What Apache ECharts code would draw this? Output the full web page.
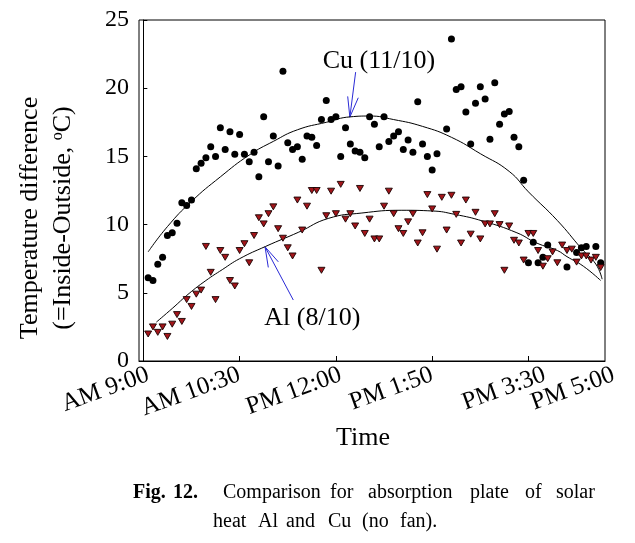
<!DOCTYPE html>
<html><head><meta charset="utf-8">
<script src="https://cdn.jsdelivr.net/npm/echarts@6/dist/echarts.min.js"></script>
<style>html,body{margin:0;padding:0;background:#fff}#c{width:635px;height:543px}</style>
</head><body><div id="c"></div>
<script>
// sample index 1..95 (x axis), temperature difference (°C)
const cuValues = [6.1,5.9,7.1,7.6,9.2,9.4,10.1,11.6,11.4,11.8,
  14.1,14.5,14.9,15.7,15.0,17.1,15.5,16.8,15.15,16.6,
  15.15,14.6,15.3,13.5,17.9,14.6,16.5,14.3,21.25,16.0,
  15.5,15.7,14.8,16.5,16.4,15.8,17.7,19.1,17.7,17.9,
  15.0,17.1,15.9,15.4,15.3,14.9,17.9,17.35,15.7,17.9,
  16.1,16.5,16.8,15.5,16.2,15.3,19.0,15.9,15.0,14.0,
  15.2,null,17.0,23.6,19.9,20.1,18.25,15.9,18.9,20.1,
  19.2,16.25,20.4,17.35,18.1,18.3,16.4,15.7,13.25,7.2,
  8.7,7.2,7.6,8.5,null,null,null,6.9,null,7.95,
  8.3,8.4,null,8.4,7.2];
const alValues = [1.98,2.5,2.1,2.5,1.8,2.7,3.4,2.9,4.5,4.0,
  4.9,5.2,8.4,6.5,4.5,8.1,7.6,5.9,5.5,8.1,
  8.6,7.2,9.2,10.5,10.05,10.8,11.3,9.7,9.0,8.3,
  7.7,11.8,9.6,11.35,12.5,12.5,6.65,10.65,12.45,10.8,
  12.95,10.4,10.8,9.9,12.65,9.35,10.4,8.95,8.95,11.35,
  12.45,10.8,9.7,9.35,10.2,10.8,8.65,9.4,12.2,11.15,
  8.2,12.0,9.6,12.15,10.75,8.65,11.8,9.3,10.9,8.95,
  10.05,10.05,10.8,10.0,6.65,9.9,8.85,8.65,7.4,9.35,
  9.35,8.1,6.95,7.5,8.0,7.2,8.5,8.1,8.2,7.25,
  7.7,7.7,7.4,7.6,6.85];
// fitted trend curves
const cuFitX = [1,5,10,16,22,27,32,38,43,47,52,58,64,70,76,80,86,91,94,95.3];
const cuFitY = [8.0,9.85,11.7,13.5,15.1,16.1,16.95,17.5,17.9,17.96,17.7,17.2,16.4,15.2,13.9,12.4,10.3,8.25,7.1,6.0];
const alFitX = [2.7,6,9.5,13,16.4,20,25.4,32.3,38.4,45.4,53.7,60,64.7,70.6,77.6,81.7,86,88,91.4,95];
const alFitY = [2.85,3.85,4.95,5.9,6.7,7.5,8.4,9.45,10.45,10.85,11.05,11.0,10.75,10.25,9.4,8.65,8.1,7.65,6.95,5.9];
const xTickAt = [0,20,40,60,80];
const xLabelAt = [1,20,41,60,83.4,97.7];
const xLabels = ['AM 9:00','AM 10:30','PM 12:00','PM 1:50','PM 3:30','PM 5:00'];

const F = 'Liberation Serif, Times New Roman, serif';
const chart = echarts.init(document.getElementById('c'), null, {renderer:'canvas'});
const cuData = cuValues.map((v,i)=>[i+1,v]).filter(d=>d[1]!==null);
const alData = alValues.map((v,i)=>[i+1,v]).filter(d=>d[1]!==null);
const option = {
  animation:false,
  backgroundColor:'#fff',
  grid:{left:139, top:20, width:466, height:341, show:true, borderColor:'#000', borderWidth:1},
  xAxis:{type:'value', min:-0.9, max:95.9,
    axisLine:{show:true, onZero:false, lineStyle:{color:'#000', width:1}},
    axisTick:{show:true, inside:true, length:5, customValues:xTickAt, lineStyle:{color:'#000'}},
    axisLabel:{show:false},
    splitLine:{show:false}},
  yAxis:{type:'value', min:0, max:25, interval:5,
    axisLine:{show:true, lineStyle:{color:'#000', width:1}},
    axisTick:{show:true, inside:true, length:4, lineStyle:{color:'#000'}},
    axisLabel:{fontSize:24, fontFamily:F, color:'#000', margin:10},
    splitLine:{show:false}},
  series:[
    {type:'line', data:cuFitX.map((x,i)=>[x,cuFitY[i]]), smooth:true, showSymbol:false, symbol:'none',
      lineStyle:{color:'#000', width:1}, z:1},
    {type:'line', data:alFitX.map((x,i)=>[x,alFitY[i]]), smooth:true, showSymbol:false, symbol:'none',
      lineStyle:{color:'#000', width:1}, z:1},
    {type:'scatter', name:'Cu', data:cuData, symbol:'circle', symbolSize:7,
      itemStyle:{color:'#000', opacity:1}, z:2},
    {type:'scatter', name:'Al', data:alData, symbol:'triangle', symbolRotate:180, symbolSize:[7,6],
      itemStyle:{color:'#a3151a', borderColor:'#1a0303', borderWidth:0.9, opacity:1}, z:3}
  ]
};
chart.setOption(option);

const P = (x,y)=>chart.convertToPixel({gridIndex:0},[x,y]);
const blue = '#2a2ad6';
const cuTxt = P(48.95,21.96), cuA0 = P(44.1,21.18), cuTip = P(42.9,17.88), cuW1 = P(42.45,19.4), cuW2 = P(44.65,19.3);
const alTxt = P(35.1,3.15), alA0 = P(31.15,4.47), alTip = P(25.28,8.37), alW1 = P(25.96,6.86), alW2 = P(28.04,7.27);
const T = (x,y,text,size,extra)=>({type:'text', x:x, y:y, style:Object.assign({text:text, fontSize:size, fontFamily:F, fill:'#000', textAlign:'left', textVerticalAlign:'middle'}, extra||{})});
const g = [
  T(cuTxt[0],cuTxt[1],'Cu (11/10)',26,{textAlign:'center'}),
  {type:'polyline', shape:{points:[cuA0,cuTip]}, style:{stroke:blue, lineWidth:1, fill:null}},
  {type:'polyline', shape:{points:[cuW1,cuTip,cuW2]}, style:{stroke:blue, lineWidth:1, fill:null}},
  T(alTxt[0],alTxt[1],'Al (8/10)',26,{textAlign:'center'}),
  {type:'polyline', shape:{points:[alA0,alTip]}, style:{stroke:blue, lineWidth:1, fill:null}},
  {type:'polyline', shape:{points:[alW1,alTip,alW2]}, style:{stroke:blue, lineWidth:1, fill:null}},
  // axis titles
  T(363,438,'Time',26,{textAlign:'center'}),
  {type:'text', x:30, y:218, rotation:Math.PI/2, style:{text:'Temperature difference', fontSize:26, fontFamily:F, fill:'#000', textAlign:'center', textVerticalAlign:'middle'}},
  {type:'text', x:63, y:218, rotation:Math.PI/2, style:{text:'{n|(=Inside-Outside, }{s|o}{n|C)}', fontSize:26, fontFamily:F, fill:'#000', textAlign:'center', textVerticalAlign:'middle',
     rich:{n:{fontSize:26, fontFamily:F, fill:'#000'}, s:{fontSize:16, fontFamily:F, fill:'#000', verticalAlign:'top', padding:[0,0,10,0]}}}},
  // caption
  T(133,493,'Fig.',20,{fontWeight:'bold'}),
  T(173,493,'12.',20,{fontWeight:'bold'}),
  T(223,493,'Comparison',20), T(330,493,'for',20), T(368,493,'absorption',20),
  T(470,493,'plate',20), T(525,493,'of',20), T(556,493,'solar',20),
  T(213,522,'heat',20), T(258,522,'Al',20), T(286,522,'and',20), T(328,522,'Cu',20),
  T(362,522,'(no',20), T(400,522,'fan).',20)
];
// x tick labels (rotated), anchored at their axis positions
const axisY = P(0,0)[1];
xLabelAt.forEach((u,i)=>{
  g.push({type:'text', x:P(u,0)[0], y:axisY+13, rotation:20*Math.PI/180,
    style:{text:xLabels[i], fontSize:25, fontFamily:F, fill:'#000', textAlign:'right', textVerticalAlign:'middle'}});
});
chart.setOption({graphic:g});
</script></body></html>
